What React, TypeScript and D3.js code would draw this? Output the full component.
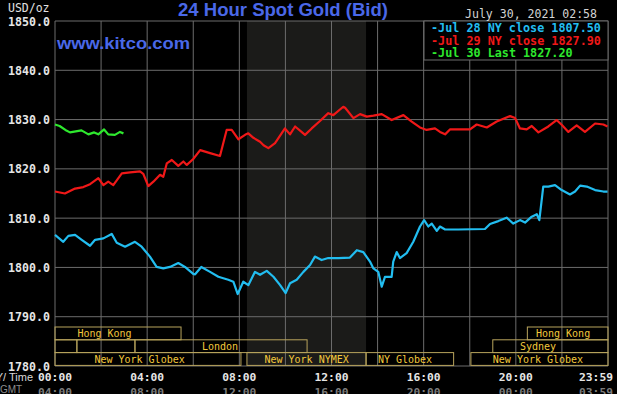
import React from 'react';
import * as d3 from 'd3';

// hour (NY time) / price pairs
const jul28Series: [number, number][] = [
  [0, 1806.6], [0.36, 1805.2], [0.58, 1806.4], [0.87, 1806.6], [1.16, 1805.6], [1.52, 1804.4],
  [1.74, 1805.6], [2.1, 1805.9], [2.46, 1806.8], [2.68, 1805.0], [3.04, 1804.2], [3.47, 1805.2],
  [3.76, 1804.2], [4.12, 1802.2], [4.41, 1800.1], [4.7, 1799.8], [4.99, 1800.1], [5.35, 1800.9],
  [5.64, 1800.1], [6.0, 1798.7], [6.08, 1798.6], [6.35, 1800.1], [6.73, 1799.1], [7.09, 1798.1],
  [7.52, 1797.5], [7.74, 1797.1], [7.93, 1794.6], [8.17, 1797.1], [8.39, 1796.4], [8.68, 1799.1],
  [8.9, 1798.5], [9.19, 1799.3], [9.48, 1798.1], [9.77, 1796.4], [10.01, 1794.8], [10.2, 1796.8],
  [10.49, 1797.5], [10.78, 1799.1], [11.07, 1800.5], [11.28, 1802.2], [11.57, 1801.5], [11.86, 1801.9],
  [12.3, 1801.9], [12.8, 1802.0], [13.1, 1803.5], [13.38, 1803.1], [13.67, 1801.2], [13.82, 1799.8],
  [14.03, 1799.1], [14.18, 1796.1], [14.32, 1798.1], [14.61, 1798.1], [14.68, 1801.2], [14.83, 1803.1],
  [14.97, 1801.9], [15.26, 1802.9], [15.55, 1805.2], [15.84, 1808.3], [16.02, 1809.6], [16.2, 1808.3],
  [16.35, 1808.9], [16.57, 1807.4], [16.71, 1808.3], [16.93, 1807.7], [17.5, 1807.7], [18.66, 1807.8],
  [18.88, 1808.8], [19.24, 1809.4], [19.6, 1810.1], [19.89, 1808.9], [20.18, 1809.6], [20.4, 1809.1],
  [20.69, 1810.3], [20.91, 1810.8], [21.02, 1809.6], [21.19, 1816.4], [21.41, 1816.4], [21.7, 1816.7],
  [21.99, 1815.7], [22.35, 1814.8], [22.57, 1815.4], [22.79, 1816.6], [23.08, 1816.4], [23.44, 1815.7],
  [23.8, 1815.4], [23.98, 1815.4],
];

const jul29Series: [number, number][] = [
  [0, 1815.4], [0.43, 1815.0], [0.87, 1816.0], [1.23, 1816.3], [1.52, 1816.9], [1.88, 1818.1],
  [2.1, 1816.7], [2.31, 1817.4], [2.53, 1816.7], [2.9, 1819.1], [3.26, 1819.3], [3.69, 1819.5],
  [3.83, 1819.0], [4.05, 1816.5], [4.27, 1817.4], [4.56, 1818.8], [4.7, 1818.4], [4.85, 1821.1],
  [5.07, 1821.8], [5.35, 1820.6], [5.57, 1821.5], [5.72, 1820.8], [6.0, 1822.0], [6.3, 1823.8],
  [6.73, 1823.2], [7.16, 1822.6], [7.45, 1827.9], [7.67, 1827.9], [7.96, 1826.0], [8.25, 1826.9],
  [8.39, 1827.2], [8.61, 1826.3], [8.9, 1825.5], [9.05, 1824.8], [9.26, 1824.2], [9.55, 1825.2],
  [9.98, 1828.2], [10.2, 1827.0], [10.42, 1828.6], [10.7, 1827.5], [10.85, 1826.9], [11.14, 1828.2],
  [11.5, 1829.7], [11.86, 1831.3], [12.08, 1830.9], [12.51, 1832.6], [12.59, 1832.4], [12.95, 1830.3],
  [13.24, 1831.1], [13.53, 1830.6], [13.82, 1830.8], [14.18, 1831.1], [14.61, 1829.9], [15.12, 1830.9],
  [15.48, 1829.6], [15.84, 1828.4], [16.13, 1827.9], [16.49, 1828.2], [16.71, 1827.5], [16.93, 1827.0],
  [17.14, 1828.0], [18.01, 1828.0], [18.3, 1829.0], [18.74, 1828.4], [19.17, 1829.6], [19.75, 1830.7],
  [19.97, 1830.3], [20.18, 1828.2], [20.47, 1828.0], [20.69, 1828.7], [20.98, 1827.4], [21.41, 1828.6],
  [21.77, 1829.9], [22.0, 1828.9], [22.28, 1827.5], [22.64, 1828.8], [23.0, 1827.5], [23.44, 1829.2],
  [23.8, 1829.0], [23.98, 1828.6],
];

const jul30Series: [number, number][] = [
  [0, 1829.0], [0.2, 1828.7], [0.45, 1827.9], [0.65, 1827.4], [0.9, 1827.6], [1.15, 1827.8],
  [1.45, 1827.0], [1.7, 1827.4], [1.88, 1827.0], [2.13, 1828.0], [2.31, 1827.0], [2.6, 1826.9],
  [2.82, 1827.5], [2.97, 1827.2],
];

const legendLabels = ['Jul 28 NY close 1807.50', 'Jul 29 NY close 1827.90', 'Jul 30 Last 1827.20'];
const seriesColors = ['#22bdf0', '#f01818', '#2ee82e'];

const priceTicks = [1780, 1790, 1800, 1810, 1820, 1830, 1840, 1850];
const hourTicks = [0, 4, 8, 12, 16, 20, 24];
const nyLabels = ['00:00', '04:00', '08:00', '12:00', '16:00', '20:00', '23:59'];
const gmtLabels = ['04:00', '08:00', '12:00', '16:00', '20:00', '00:00', '03:59'];

// trading sessions: row, start hour, end hour, label, label centre hour
const sessions: [number, number, number, string, number][] = [
  [0, 0, 5.47, 'Hong Kong', 2.15],
  [0, 20.5, 24, 'Hong Kong', 22.05],
  [1, 0, 0.95, '', 0],
  [1, 0.95, 3.47, '', 0],
  [1, 3.47, 10.94, 'London', 7.16],
  [1, 19.0, 24, 'Sydney', 20.96],
  [2, 0, 8.07, 'New York Globex', 3.67],
  [2, 8.33, 13.5, 'New York NYMEX', 10.92],
  [2, 13.5, 17.3, 'NY Globex', 15.19],
  [2, 18.05, 24, 'New York Globex', 20.96],
];
const nymexHours = [8.33, 13.5];

const W = 617;
const H = 394;
const left = 55;
const right = 608;
const top = 21;
const bottom = 366;
const mono = '"DejaVu Sans Mono", monospace';
const sans = '"Liberation Sans", Arial, sans-serif';

const App = () => {
  const x = d3.scaleLinear().domain([0, 24]).range([left, right]);
  const y = d3.scaleLinear().domain([1780, 1850]).range([bottom, top]);
  const line = d3.line<[number, number]>().x(d => x(d[0])).y(d => y(d[1]));
  const gridHours = d3.range(0, 25, 2);
  const rowTop = (r: number) => 327 + r * 12.8;
  const gridColor = '#6c6c6c';
  const last = hourTicks.length - 1;

  return (
    <div style={{ position: 'absolute', left: 0, top: 0 }}>
      <svg width={W} height={H} style={{ display: 'block', background: '#000' }}>
        <rect x={0} y={0} width={W} height={H} fill="#000" />
        {/* NYMEX hours shading */}
        <rect x={x(nymexHours[0])} y={top} width={x(nymexHours[1]) - x(nymexHours[0])}
          height={bottom - top} fill="#1b1b19" />
        {/* grid */}
        {gridHours.map(h => (
          <line key={'v' + h} x1={x(h)} x2={x(h)} y1={top} y2={bottom} stroke={gridColor} strokeWidth={1} />
        ))}
        {priceTicks.map(p => (
          <line key={'h' + p} x1={left} x2={right} y1={y(p)} y2={y(p)} stroke={gridColor} strokeWidth={1} />
        ))}

        {/* sessions */}
        {sessions.map(([row, s, e, label, c], i) => (
          <g key={'s' + i}>
            <rect x={x(s)} y={rowTop(row)} width={x(e) - x(s)} height={12.8}
              fill="none" stroke="#b8a45c" strokeWidth={1} />
            {label && (
              <text x={x(c)} y={rowTop(row) + 10} textAnchor="middle" fontFamily={mono}
                fontSize={10} fill="#f2c83c">{label}</text>
            )}
          </g>
        ))}

        {/* series */}
        {[jul28Series, jul29Series, jul30Series].map((s, i) => (
          <path key={'l' + i} d={line(s) || ''} fill="none" stroke={seriesColors[i]}
            strokeWidth={2.2} strokeLinejoin="round" />
        ))}

        {/* legend */}
        <rect x={424} y={top} width={right - 424} height={39} fill="#000" stroke={gridColor} />
        {legendLabels.map((t, i) => (
          <text key={'lg' + i} x={431} y={32 + i * 12.5} fontFamily={mono} fontSize={11.8}
            fontWeight="bold" fill={seriesColors[i]} textLength={(t.length + 1) * 7.08}
            lengthAdjust="spacingAndGlyphs">
            {'-' + t}
          </text>
        ))}

        {/* y axis labels */}
        <text x={8} y={11.5} fontFamily={mono} fontSize={11.5} fill="#e0e0e0">USD/oz</text>
        {priceTicks.map(p => (
          <text key={'yl' + p} x={50} y={y(p) + 4.5} textAnchor="end" fontFamily={mono}
            fontSize={11.6} fontWeight="bold" fill="#e6e6e6">{d3.format('.1f')(p)}</text>
        ))}

        {/* x axis labels */}
        <text x={33} y={381} textAnchor="end" fontFamily={sans} fontSize={11} fill="#d8d8d8">NY/ Time</text>
        <text x={0} y={393} fontFamily={sans} fontSize={10} fill="#8c8c8c">GMT</text>
        {hourTicks.map((h, i) => (
          <g key={'xl' + h}>
            <text x={i === last ? 613 : x(h)} y={381}
              textAnchor={i === last ? 'end' : 'middle'} fontFamily={mono}
              fontSize={11.3} fontWeight="bold" fill="#e6e6e6">{nyLabels[i]}</text>
            <text x={i === last ? 613 : x(h)} y={396}
              textAnchor={i === last ? 'end' : 'middle'} fontFamily={mono}
              fontSize={11.3} fontWeight="bold" fill="#7c7c7c">{gmtLabels[i]}</text>
          </g>
        ))}

        {/* titles */}
        <text x={178} y={16} fontFamily={sans} fontSize={18} fontWeight="bold" fill="#4a68e8"
          textLength={210} lengthAdjust="spacingAndGlyphs">24 Hour Spot Gold (Bid)</text>
        <text x={57} y={48.5} fontFamily={sans} fontSize={17} fontWeight="bold" fill="#4a68e8"
          textLength={133} lengthAdjust="spacingAndGlyphs">www.kitco.com</text>
        <text x={465} y={18} fontFamily={mono} fontSize={11.5} fill="#d4d4d4"
          textLength={132} lengthAdjust="spacingAndGlyphs">July 30, 2021 02:58</text>
      </svg>
    </div>
  );
};

export default App;
